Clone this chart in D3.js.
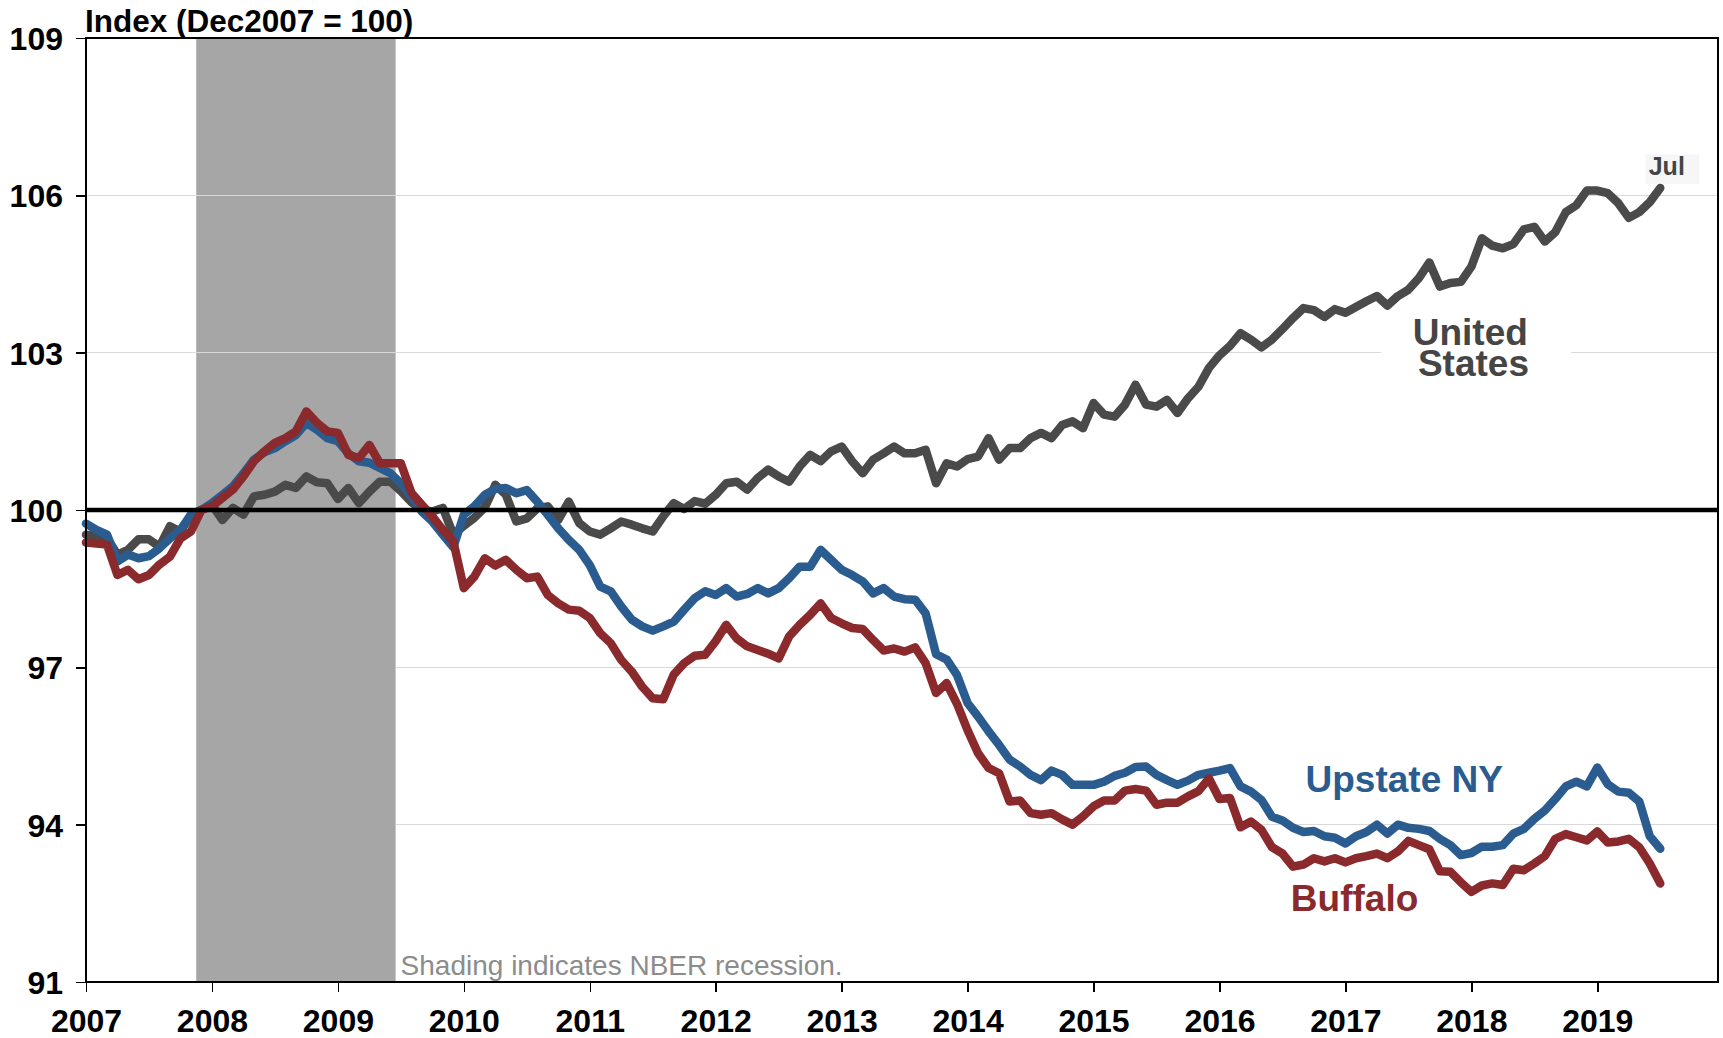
<!DOCTYPE html>
<html>
<head>
<meta charset="utf-8">
<style>
  body { margin: 0; background: #fff; }
  svg { display: block; font-family: "Liberation Sans", Arial, sans-serif; }
  .axis text { font-size: 32px; font-weight: bold; fill: #000; }
  .axis path, .axis line { stroke: #000; stroke-width: 1.5px; shape-rendering: crispEdges; }
  .grid line { stroke: #d9d9d9; stroke-width: 1.5px; shape-rendering: crispEdges; }
  .series { fill: none; stroke-width: 8.5px; stroke-linejoin: round; stroke-linecap: round; }
</style>
</head>
<body>
<svg width="1723" height="1038"></svg>
<script src="https://cdn.jsdelivr.net/npm/d3@7"></script>
<script>

// monthly index, Jan 2007 .. Jul 2019 (Dec 2007 = 100)
var startYear = 2007;
var lastMonth = "Jul";

var unitedStates = [
  99.53, 99.50, 99.46, 99.15, 99.24, 99.44, 99.44, 99.30, 99.69, 99.59, 99.91, 100.00,
  100.10, 99.81, 100.04, 99.91, 100.26, 100.29, 100.35, 100.48, 100.42, 100.64, 100.53, 100.51,
  100.21, 100.42, 100.13, 100.35, 100.54, 100.54, 100.36, 100.15, 100.00, 99.97, 100.04, 99.53,
  99.70, 99.85, 100.05, 100.48, 100.29, 99.78, 99.84, 100.03, 100.07, 99.81, 100.16, 99.75,
  99.59, 99.53, 99.65, 99.78, 99.72, 99.65, 99.59, 99.88, 100.13, 100.02, 100.17, 100.12,
  100.29, 100.51, 100.54, 100.39, 100.61, 100.77, 100.64, 100.54, 100.83, 101.05, 100.93, 101.12,
  101.21, 100.93, 100.70, 100.96, 101.08, 101.21, 101.08, 101.08, 101.15, 100.51, 100.89, 100.83,
  100.97, 101.02, 101.37, 100.96, 101.18, 101.18, 101.37, 101.47, 101.37, 101.62, 101.69, 101.56,
  102.04, 101.82, 101.78, 102.01, 102.39, 102.01, 101.97, 102.10, 101.85, 102.13, 102.35, 102.71,
  102.95, 103.13, 103.37, 103.25, 103.10, 103.25, 103.45, 103.66, 103.85, 103.81, 103.68, 103.83,
  103.76, 103.87, 103.98, 104.08, 103.90, 104.08, 104.20, 104.42, 104.72, 104.26, 104.33, 104.35,
  104.64, 105.18, 105.04, 104.99, 105.07, 105.35, 105.40, 105.12, 105.30, 105.68, 105.81, 106.09,
  106.09, 106.04, 105.85, 105.57, 105.68, 105.87, 106.14
];

var upstateNY = [
  99.74, 99.62, 99.53, 99.02, 99.15, 99.08, 99.12, 99.27, 99.46, 99.62, 99.91, 100.00,
  100.13, 100.29, 100.45, 100.70, 100.96, 101.10, 101.18, 101.31, 101.43, 101.66, 101.53, 101.37,
  101.31, 101.08, 100.93, 100.90, 100.80, 100.70, 100.51, 100.26, 99.97, 99.78, 99.53, 99.29,
  99.91, 100.07, 100.29, 100.40, 100.42, 100.32, 100.38, 100.16, 99.91, 99.65, 99.43, 99.24,
  98.95, 98.54, 98.45, 98.16, 97.91, 97.78, 97.70, 97.78, 97.87, 98.10, 98.32, 98.45,
  98.38, 98.51, 98.35, 98.40, 98.51, 98.41, 98.51, 98.70, 98.92, 98.92, 99.24, 99.05,
  98.86, 98.76, 98.64, 98.41, 98.51, 98.35, 98.30, 98.29, 98.03, 97.25, 97.15, 96.85,
  96.32, 96.06, 95.78, 95.52, 95.24, 95.11, 94.95, 94.85, 95.03, 94.95, 94.76, 94.76,
  94.76, 94.82, 94.93, 94.99, 95.10, 95.11, 94.95, 94.85, 94.76, 94.84, 94.95, 94.99,
  95.03, 95.08, 94.73, 94.63, 94.47, 94.15, 94.08, 93.94, 93.86, 93.88, 93.78, 93.75,
  93.64, 93.78, 93.86, 94.00, 93.83, 94.00, 93.94, 93.92, 93.88, 93.73, 93.61, 93.42,
  93.46, 93.58, 93.58, 93.61, 93.83, 93.92, 94.11, 94.27, 94.49, 94.73, 94.82, 94.73,
  95.09, 94.77, 94.63, 94.61, 94.44, 93.78, 93.54
];

var buffalo = [
  99.38, 99.36, 99.34, 98.76, 98.86, 98.68, 98.76, 98.96, 99.11, 99.46, 99.59, 100.00,
  100.07, 100.23, 100.39, 100.64, 100.93, 101.12, 101.28, 101.37, 101.50, 101.88, 101.66, 101.50,
  101.47, 101.05, 100.99, 101.24, 100.89, 100.89, 100.89, 100.33, 100.10, 99.88, 99.62, 99.40,
  98.51, 98.73, 99.08, 98.94, 99.05, 98.86, 98.70, 98.73, 98.38, 98.22, 98.10, 98.08,
  97.94, 97.65, 97.46, 97.14, 96.92, 96.63, 96.41, 96.39, 96.86, 97.08, 97.22, 97.24,
  97.50, 97.81, 97.55, 97.40, 97.33, 97.26, 97.17, 97.59, 97.81, 98.00, 98.22, 97.94,
  97.84, 97.75, 97.73, 97.52, 97.32, 97.36, 97.30, 97.38, 97.08, 96.51, 96.70, 96.30,
  95.80, 95.36, 95.08, 94.98, 94.44, 94.46, 94.22, 94.19, 94.22, 94.10, 94.00, 94.16,
  94.35, 94.46, 94.46, 94.65, 94.68, 94.65, 94.38, 94.42, 94.42, 94.54, 94.64, 94.88,
  94.49, 94.51, 93.95, 94.06, 93.90, 93.57, 93.45, 93.20, 93.24, 93.36, 93.30, 93.36,
  93.28, 93.36, 93.40, 93.45, 93.36, 93.49, 93.69, 93.61, 93.53, 93.11, 93.10, 92.90,
  92.72, 92.84, 92.88, 92.85, 93.16, 93.13, 93.26, 93.40, 93.73, 93.82, 93.76, 93.70,
  93.87, 93.66, 93.68, 93.73, 93.57, 93.26, 92.88
];

var yTicks = [91, 94, 97, 100, 103, 106, 109];
var yearLabels = ["2007", "2008", "2009", "2010", "2011", "2012", "2013",
                  "2014", "2015", "2016", "2017", "2018", "2019"];
// NBER recession, months since Jan 2007: Dec 2007 .. Jun 2009
var recession = [11, 29];

var svg = d3.select("svg"),
    margin = {top: 38, right: 5, bottom: 56, left: 86},
    width = +svg.attr("width") - margin.left - margin.right,
    height = +svg.attr("height") - margin.top - margin.bottom;

var x = d3.scaleLinear().domain([0, 155.5]).range([0, width]);
var y = d3.scaleLinear().domain([91, 109]).range([height, 0]);

var g = svg.append("g")
    .attr("transform", "translate(" + margin.left + "," + margin.top + ")");

// recession shading
g.append("rect")
    .attr("x", x(recession[0] - 0.5))
    .attr("y", 0)
    .attr("width", x(recession[1] + 0.5) - x(recession[0] - 0.5))
    .attr("height", height)
    .attr("fill", "#a6a6a6");

// gridlines
g.append("g")
    .attr("class", "grid")
    .selectAll("line")
    .data(yTicks.filter(function(d) { return d !== 91 && d !== 109 && d !== 100; }))
    .enter().append("line")
    .attr("x1", function(d) { return d === 94 || d === 97 ? x(recession[1] + 0.5) : 0; })
    .attr("x2", width)
    .attr("y1", function(d) { return y(d); })
    .attr("y2", function(d) { return y(d); });

g.append("text")
    .attr("x", x(recession[1] + 0.5) + 5)
    .attr("y", height - 7)
    .attr("font-size", "28px")
    .attr("fill", "#8c8c8c")
    .text("Shading indicates NBER recession.");

// white box behind the United States label
g.append("rect")
    .attr("x", x(123.4))
    .attr("y", y(103.7))
    .attr("width", x(141.5) - x(123.4))
    .attr("height", y(102.2) - y(103.7))
    .attr("fill", "#fff");

// Jul marker box
g.append("rect")
    .attr("x", x(148.6))
    .attr("y", y(106.78))
    .attr("width", x(153.7) - x(148.6))
    .attr("height", y(106.22) - y(106.78))
    .attr("fill", "#f6f6f6");

var line = function(values) {
  return d3.line()
    .x(function(d, i) { return x(i); })
    .y(function(d) { return y(d); })(values);
};

var series = [
  {name: "United States", values: unitedStates, color: "#4a4a4a"},
  {name: "Upstate NY", values: upstateNY, color: "#2a5c8f"},
  {name: "Buffalo", values: buffalo, color: "#8b2a2c"}
];

g.selectAll(".series")
    .data(series)
    .enter().append("path")
    .attr("class", "series")
    .attr("stroke", function(d) { return d.color; })
    .attr("d", function(d) { return line(d.values); });

// reference line at 100
g.append("line")
    .attr("x1", 0)
    .attr("x2", width)
    .attr("y1", y(100))
    .attr("y2", y(100))
    .attr("stroke", "#000")
    .attr("stroke-width", 4.5);

// axes
var yAxis = d3.axisLeft(y)
    .tickValues(yTicks)
    .tickSize(10)
    .tickPadding(13)
    .tickFormat(d3.format("d"));

var xAxis = d3.axisBottom(x)
    .tickValues(yearLabels.map(function(d, i) { return i * 12; }))
    .tickSize(10)
    .tickPadding(17)
    .tickFormat(function(d) { return yearLabels[d / 12]; });

g.append("g")
    .attr("class", "axis axis--y")
    .call(yAxis)
    .call(function(a) { a.select(".domain").remove(); });

g.append("g")
    .attr("class", "axis axis--x")
    .attr("transform", "translate(0," + height + ")")
    .call(xAxis)
    .call(function(a) { a.select(".domain").remove(); });

g.selectAll(".axis--y .tick text").attr("dy", "0.36em");
g.selectAll(".axis--x .tick text").attr("font-size", "33px");

// plot frame
g.append("rect")
    .attr("width", width)
    .attr("height", height)
    .attr("fill", "none")
    .attr("stroke", "#000")
    .attr("stroke-width", 1.5)
    .attr("shape-rendering", "crispEdges");

// labels
g.append("text")
    .attr("x", -1)
    .attr("y", -6)
    .attr("font-size", "31.5px")
    .attr("font-weight", "bold")
    .text("Index (Dec2007 = 100)");

var us = g.append("text")
    .attr("text-anchor", "middle")
    .attr("font-size", "37px")
    .attr("font-weight", "bold")
    .attr("fill", "#454545");
us.append("tspan").attr("x", x(131.9)).attr("y", y(103.15)).text("United");
us.append("tspan").attr("x", x(132.2)).attr("y", y(102.56)).text("States");

g.append("text")
    .attr("x", x(116.2))
    .attr("y", y(94.62))
    .attr("font-size", "37px")
    .attr("font-weight", "bold")
    .attr("fill", "#2a5c8f")
    .text("Upstate NY");

g.append("text")
    .attr("x", x(114.8))
    .attr("y", y(92.36))
    .attr("font-size", "37px")
    .attr("font-weight", "bold")
    .attr("fill", "#8b2a2c")
    .text("Buffalo");

g.append("text")
    .attr("x", x(148.9))
    .attr("y", y(106.39))
    .attr("font-size", "25px")
    .attr("font-weight", "bold")
    .attr("fill", "#454545")
    .text(lastMonth);

</script>
</body>
</html>
